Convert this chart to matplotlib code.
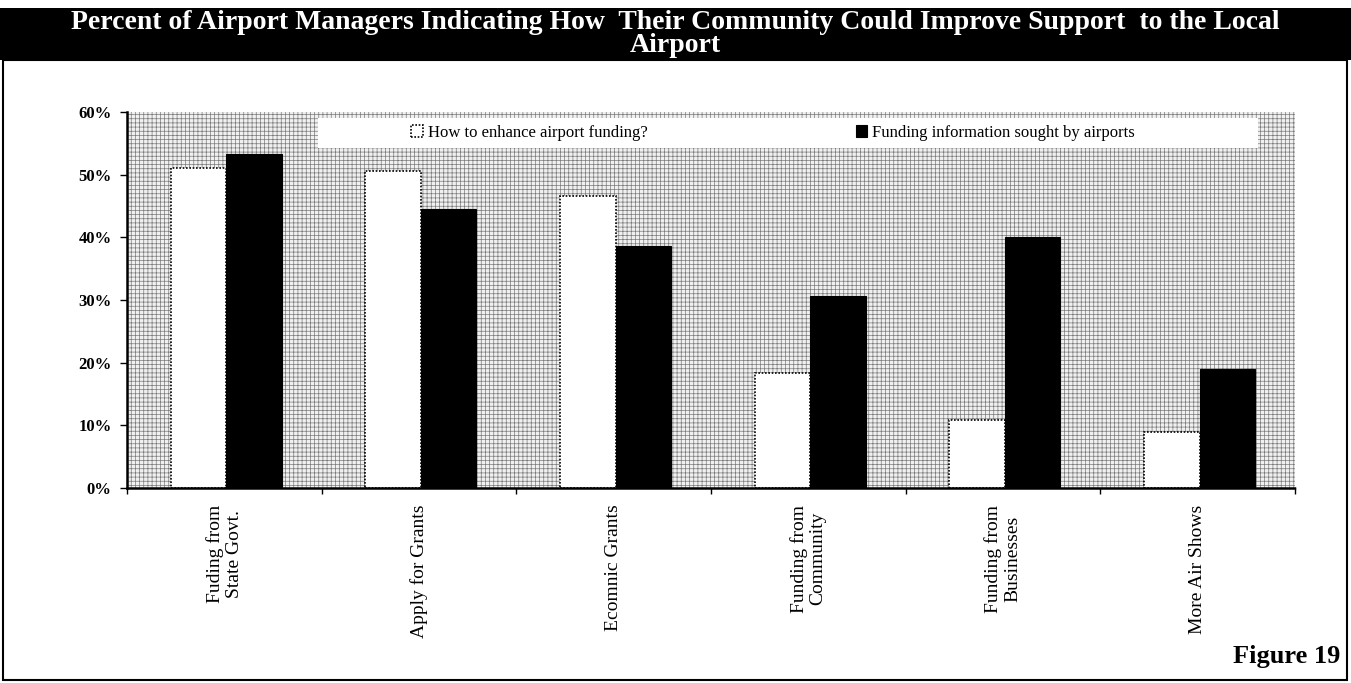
import matplotlib
matplotlib.use("Agg")
import matplotlib.pyplot as plt
import numpy as np
from matplotlib.patches import Rectangle

plt.rcParams['font.family'] = ['Liberation Serif', 'DejaVu Serif']
plt.rcParams['hatch.linewidth'] = 0.5

categories = ["Fuding from\nState Govt.", "Apply for Grants", "Ecomnic Grants",
              "Funding from\nCommunity", "Funding from\nBusinesses", "More Air Shows"]
enhance = [51.0, 50.6, 46.6, 18.4, 10.9, 9.0]
sought = [53.3, 44.6, 38.6, 30.7, 40.1, 19.0]
series_names = ["How to enhance airport funding?", "Funding information sought by airports"]
yticks = [0, 10, 20, 30, 40, 50, 60]

fig = plt.figure(figsize=(13.51, 6.83), dpi=100)

# black title bar
fig.patches.append(Rectangle((0, 0.912), 1, 0.076, transform=fig.transFigure,
                             facecolor='black', edgecolor='none', zorder=0))
fig.text(0.5, 0.950, "Percent of Airport Managers Indicating How  Their Community Could Improve Support  to the Local\nAirport",
         color='white', fontsize=20, fontweight='bold', ha='center', va='center', linespacing=0.9)
# outer frame
fig.patches.append(Rectangle((0.002, 0.005), 0.995, 0.907, transform=fig.transFigure,
                             facecolor='none', edgecolor='black', lw=1.5))

ax = fig.add_axes([0.094, 0.2855, 0.8645, 0.5505])
ax.add_patch(Rectangle((0, 0), 1, 1, transform=ax.transAxes, facecolor='#f0f0f0',
                       edgecolor='#7a7a7a', hatch='++++', lw=0, zorder=0))

x = np.arange(len(categories))
w = 0.285
ax.bar(x - w / 2 + 0.01, enhance, w, color='white', edgecolor='black', lw=1.2,
       linestyle=(0, (1, 1)), label=series_names[0], zorder=2)
ax.bar(x + w / 2 + 0.01, sought, w, color='black', edgecolor='black', lw=0.8,
       label=series_names[1], zorder=2)

ax.set_xlim(-0.5, len(categories) - 0.5)
ax.set_ylim(0, 60)
ax.set_yticks(yticks)
ax.set_yticklabels([f"{v}%" for v in yticks], fontsize=12, fontweight='bold')
ax.set_xticks(x)
ax.set_xticklabels(categories, rotation=90, fontsize=14, va='top', linespacing=1.15)
ax.set_xticks(np.arange(len(categories) + 1) - 0.5, minor=True)
ax.tick_params(axis='x', which='major', length=0, pad=12)
ax.tick_params(axis='x', which='minor', length=4, width=1)
ax.tick_params(axis='y', length=5, width=1, direction='out', pad=6)

for s in ['left', 'bottom']:
    ax.spines[s].set_linestyle((0, (1, 1)))
    ax.spines[s].set_linewidth(1.8)
for s in ['right', 'top']:
    ax.spines[s].set_visible(False)

# white legend strip
ax.add_patch(Rectangle((0.1635, 0.904), 0.805, 0.08, transform=ax.transAxes,
                       facecolor='white', edgecolor='none', zorder=3))
leg = ax.legend(loc='center left', bbox_to_anchor=((396 - 127) / 1168, 0.944), ncol=2,
                frameon=False, fontsize=12, handlelength=0.7, handleheight=0.7,
                handletextpad=0.3, columnspacing=12.5)
leg.set_zorder(4)

fig.text(0.992, 0.022, "Figure 19", fontsize=19, fontweight='bold', ha='right', va='bottom')

fig.savefig("out.png", dpi=100)
